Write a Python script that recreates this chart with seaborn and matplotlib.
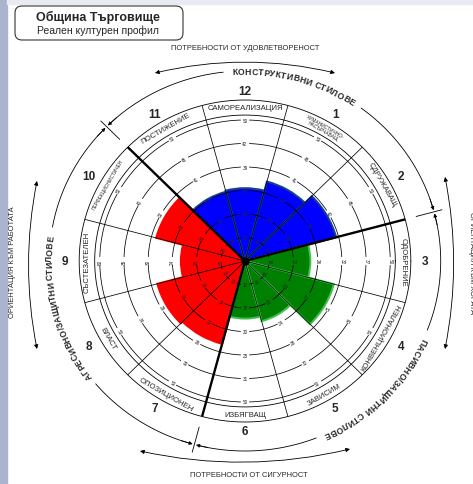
import numpy as np
import pandas as pd
import seaborn as sns
import matplotlib.pyplot as plt
from matplotlib.patches import FancyBboxPatch, Rectangle
from matplotlib.font_manager import FontProperties
from matplotlib.textpath import TextToPath

sns.set_theme(style="white")
plt.rcParams['font.family'] = ['Liberation Sans', 'DejaVu Sans']

# segments, clockwise starting from the top
seg_no = [12, 1, 2, 3, 4, 5, 6, 7, 8, 9, 10, 11]
seg_name = ["САМОРЕАЛИЗАЦИЯ", "ХУМАНИСТИЧНО-\nНАСЪРЧАВАЩ", "СДРУЖАВАЩ", "ОДОБРЕНИЕ",
            "КОНВЕНЦИОНАЛЕН", "ЗАВИСИМ", "ИЗБЯГВАЩ", "ОПОЗИЦИОНЕН", "ВЛАСТ",
            "СЪСТЕЗАТЕЛЕН", "ПЕРФЕКЦИОНИСТИЧЕН", "ПОСТИЖЕНИЕ"]
seg_group = ["constructive"] * 3 + ["passive"] * 4 + ["aggressive"] * 4 + ["constructive"]
# profile extent, in ring units (ring 6 = raw score 50)
score = [3.1, 3.5, 3.9, 2.7, 3.8, 2.65, 2.45, 3.65, 3.75, 2.65, 3.8, 3.05]

# raw-score labels printed on each ring, per segment
ring1 = [23, 26, 27, 18, 18, 16, 13, 15, 15, 15, 20, 26]
ring2 = [29, 32, 33, 22, 23, 20, 18, 19, 19, 18, 24, 31]
ring3 = [35, 37, 38, 26, 27, 24, 20, 22, 24, 24, 28, 35]
ring4 = [39, 41, 42, 32, 31, 28, 25, 26, 29, 30, 33, 41]
ring5 = [42, 45, 45, 37, 36, 32, 31, 30, 34, 35, 40, 45]
ring6 = [50] * 12

group_label = ["КОНСТРУКТИВНИ СТИЛОВЕ", "ПАСИВНО/ЗАЩИТНИ СТИЛОВЕ", "АГРЕСИВНО/ЗАЩИТНИ СТИЛОВЕ"]
group_lo = [15, 255, 135]
group_hi = [135, 375, 255]

fill = {"constructive": "#0000ff", "passive": "#008000", "aggressive": "#ff0000"}
edge = {"constructive": "#14418f", "passive": "#3fbf4c", "aggressive": "#ff0000"}

W, H = 473, 485
CX, CY = 245, 262      # centre of the circle, pixels from top-left
R_PX = 161             # outer edge of the name band
SX = 1.03              # picture is a bit wider than tall
U = 23.5               # pixels per ring
R_MAX = R_PX / U

fig = plt.figure(figsize=(W / 100, H / 100), dpi=100)
fig.patch.set_facecolor("white")
ov = fig.add_axes([0, 0, 1, 1], zorder=0)
ov.set_xlim(0, W)
ov.set_ylim(H, 0)
ov.axis("off")

ax = fig.add_axes([(CX - SX * R_PX) / W, (H - CY - R_PX) / H, 2 * SX * R_PX / W, 2 * R_PX / H],
                  projection="polar", zorder=1)
ax.set_aspect("auto")
ax.set_facecolor("none")
ax.set_ylim(0, R_MAX)
ax.set_xticks([])
ax.set_yticks([])
ax.grid(False)
ax.spines["polar"].set_visible(False)


def tangent(t):
    t = t % 360
    return t - 90 if t <= 180 else t - 270


df = pd.DataFrame({"no": seg_no, "name": seg_name, "group": seg_group, "score": score})
df["theta"] = (90 - 30 * np.arange(12)) % 360

# profile wedges
for grp, sub in df.groupby("group"):
    ax.bar(np.deg2rad(sub.theta), sub.score, width=np.deg2rad(30), bottom=0,
           color=fill[grp], edgecolor=edge[grp], linewidth=1.4, zorder=1)

# rings, broken where the labels sit
rings = [ring1, ring2, ring3, ring4, ring5, ring6]
for k, labels in enumerate(rings, start=1):
    gap = np.rad2deg(4.3 / (k * U))
    for t, lab in zip(df.theta, labels):
        for a, b in [(t - 15, t - gap), (t + gap, t + 15)]:
            tt = np.deg2rad(np.linspace(a, b, 30))
            ax.plot(tt, np.full_like(tt, k), color="black", lw=0.55, zorder=3)
        ax.text(np.deg2rad(t), k, str(lab), fontsize=3.3, rotation=tangent(t),
                ha="center", va="center", rotation_mode="anchor", zorder=4)

full = np.linspace(0, 2 * np.pi, 500)
for r in [6.21, R_MAX]:
    ax.plot(full, np.full_like(full, r), color="black", lw=0.6, zorder=3, clip_on=False)

for b in range(15, 375, 30):
    thick = b in (15, 135, 255)
    ax.plot([np.deg2rad(b)] * 2, [0, R_MAX], color="black", lw=1.7 if thick else 0.55,
            zorder=3.5 if thick else 3, clip_on=False, solid_capstyle="butt")
ax.scatter([0], [0], s=24, color="black", zorder=5)

for t, name in zip(df.theta, df.name):
    small = "\n" in name or len(name) > 15
    ax.text(np.deg2rad(t), 6.53, name, fontsize=3.5 if small else 5.6, rotation=tangent(t),
            ha="center", va="center", rotation_mode="anchor", linespacing=0.95, zorder=4)


# ---- decorations around the circle (pixel coordinates) ----
def P(t, r, s=SX):
    a = np.deg2rad(t)
    return CX + s * r * np.cos(a), CY - r * np.sin(a)


for t, n in zip(df.theta, df.no):
    x, y = P(t, 170, 1.06)
    ov.text(x, y, str(n), fontsize=8.5, weight="bold", ha="center", va="center")

for b in (15, 135, 255):
    (x0, y0), (x1, y1) = P(b, 172), P(b, 198)
    ov.plot([x0, x1], [y0, y1], color="black", lw=0.6)

ttp = TextToPath()


def arc_text(text, mid, r, size):
    prop = FontProperties(family="Liberation Sans", weight="bold", size=size)
    px = 100 / 72 * 1.04

    def width(s):
        return ttp.get_text_width_height_descent(s, prop, ismath=False)[0] * px

    total = width(text)
    centres = []
    for i, ch in enumerate(text):
        if ch == " ":
            centres.append(None)
            continue
        centres.append(width(text[:i + 1]) - width(ch) / 2)
    for ch, s in zip(text, centres):
        if s is None:
            continue
        t = mid + np.rad2deg((total / 2 - s) / r)
        x, y = P(t, r - 2.8)
        ov.text(x, y, ch, fontsize=size, weight="bold", rotation=t - 90,
                ha="center", va="baseline", rotation_mode="anchor")
    return np.rad2deg(total / 2 / r)


R_ST = 190
for lo, hi, label in zip(group_lo, group_hi, group_label):
    mid = (lo + hi) / 2
    half = arc_text(label, mid, R_ST, 6.2) + 2.5
    for a, b in [(lo + 1, mid - half), (mid + half, hi - 1)]:
        xs, ys = P(np.linspace(a, b, 60), R_ST)
        ov.plot(xs, ys, color="black", lw=0.6)
    for tip, tail in [(lo + 0.5, lo + 4), (hi - 0.5, hi - 4)]:
        ov.annotate("", xy=P(tip, R_ST), xytext=P(tail, R_ST),
                    arrowprops=dict(arrowstyle="-|>", color="black", lw=0.6,
                                    mutation_scale=5, shrinkA=0, shrinkB=0))

# outer double arrows
arrow_ends = [((155, 74), (335, 74), -0.12), ((140, 452), (350, 450), 0.115),
              ((37, 182), (37, 350), 0.1), ((445, 178), (445, 350), -0.1)]
for a, b, rad in arrow_ends:
    ov.annotate("", xy=b, xytext=a,
                arrowprops=dict(arrowstyle="<|-|>", color="black", lw=0.6, mutation_scale=6,
                                shrinkA=0, shrinkB=0, connectionstyle=f"arc3,rad={rad}"))

ov.text(245, 48, "ПОТРЕБНОСТИ ОТ УДОВЛЕТВОРЕНОСТ", fontsize=5.4, ha="center", va="center")
ov.text(249, 476, "ПОТРЕБНОСТИ ОТ СИГУРНОСТ", fontsize=5.4, ha="center", va="center")
ov.text(12, 262, "ОРИЕНТАЦИЯ КЪМ РАБОТАТА", fontsize=5.4, rotation=90, ha="center", va="center")
ov.text(471, 263, "ОРИЕНТАЦИЯ КЪМ ХОРАТА", fontsize=5.4, rotation=-90, ha="center", va="center")

# slide background strips and title box
ov.add_patch(Rectangle((0, 0), 7, H, color="#aab4cf", zorder=0))
ov.add_patch(Rectangle((7, 0), W, 5, color="#e8ebf2", zorder=0))
ov.add_patch(FancyBboxPatch((15, 7), 168, 34, boxstyle="round,pad=0,rounding_size=7",
                            facecolor="white", edgecolor="#333333", lw=0.8))
ov.text(98, 17, "Община Търговище", fontsize=9, weight="bold", ha="center", va="center")
ov.text(98, 31, "Реален културен профил", fontsize=7.5, ha="center", va="center")

fig.savefig("out.png", dpi=100)
